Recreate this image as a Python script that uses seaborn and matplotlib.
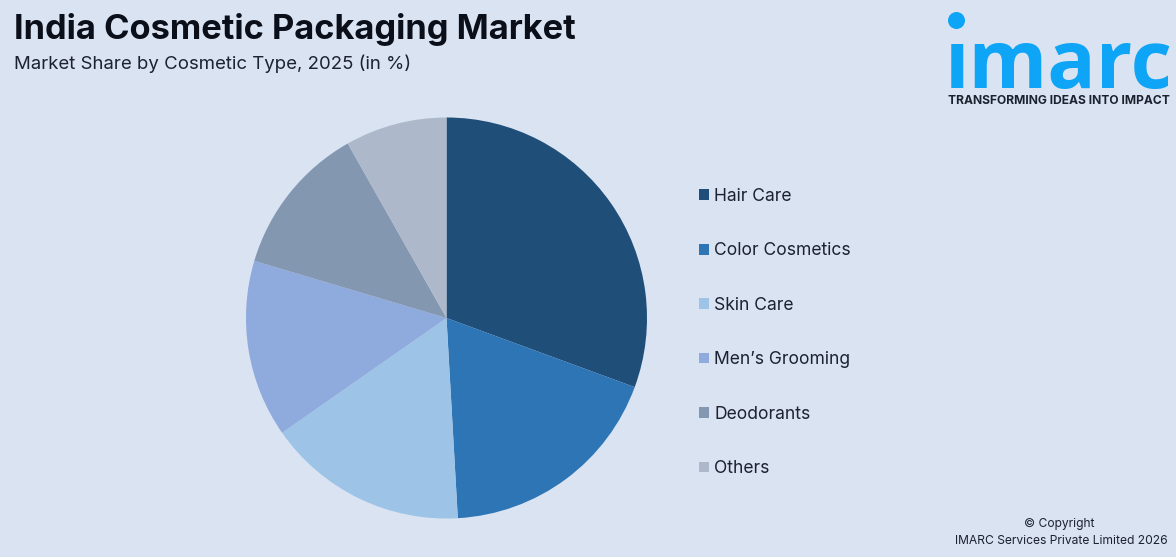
import matplotlib

matplotlib.use("Agg")
import matplotlib.pyplot as plt
from matplotlib.patches import Patch
import seaborn as sns

categories = ["Hair Care", "Color Cosmetics", "Skin Care", "Men\u2019s Grooming", "Deodorants", "Others"]
shares = [30.6, 18.5, 16.2, 14.3, 12.2, 8.2]
slice_colors = ["#1F4E79", "#2E75B6", "#9DC3E6", "#8FAADC", "#8497B0", "#ADB9CA"]

BG = "#DAE3F2"
LOGO = "#0EA5F6"
W, H = 1176, 557

sns.set_theme(style="white")
plt.rcParams["font.family"] = ["Inter", "DejaVu Sans"]
palette = sns.color_palette(slice_colors)

fig = plt.figure(figsize=(W / 100, H / 100), dpi=100, facecolor=BG)
# pie centre at (446, 318), radius 200 in image pixels
ax = fig.add_axes([246 / W, 1 - 518.5 / H, 401 / W, 401 / H])
wedges, _ = ax.pie(
    shares,
    colors=palette,
    startangle=90,
    counterclock=False,
    radius=1,
    wedgeprops={"linewidth": 0},
)
ax.set_xlim(-1, 1)
ax.set_ylim(-1, 1)

handles = [Patch(facecolor=c, edgecolor="none", label=n) for n, c in zip(categories, palette)]
fig.legend(
    handles=handles,
    loc="center left",
    bbox_to_anchor=(699 / W, 1 - 332.5 / H),
    frameon=False,
    fontsize=12.6,
    labelcolor="#1B2333",
    borderaxespad=0,
    borderpad=0,
    handlelength=0.57,
    handleheight=0.57,
    handletextpad=0.29,
    labelspacing=2.14,
)


def px_text(x, y, s, **kw):
    fig.text(x / W, 1 - y / H, s, **kw)


px_text(14, 30, "India Cosmetic Packaging Market", fontsize=24.8, fontweight="bold", color="#0B0F19", va="center")
px_text(14, 64, "Market Share by Cosmetic Type, 2025 (in %)", fontsize=13.4, color="#1B2333", va="center")

# logo, dot of the i is drawn separately
px_text(945, 88, "\u0131marc", fontsize=57.8, fontweight="bold", color=LOGO, va="baseline", family=["Open Sans", "DejaVu Sans"])
logo_ax = fig.add_axes([0, 0, 1, 1], facecolor="none")
logo_ax.set_xlim(0, W)
logo_ax.set_ylim(H, 0)
logo_ax.axis("off")
logo_ax.scatter([955.5], [20], s=150, color=LOGO, linewidths=0)
px_text(948, 101, "TRANSFORMING IDEAS INTO IMPACT", fontsize=8.7, fontweight="bold", color="#1A2230", va="center")

px_text(1059, 524.5, "\u00a9 Copyright", fontsize=8.7, color="#1B2333", ha="center", va="center")
px_text(1061, 540.5, "IMARC Services Private Limited 2026", fontsize=8.7, color="#1B2333", ha="center", va="center")

fig.savefig("out.png", dpi=100, facecolor=BG)
plt.close(fig)
